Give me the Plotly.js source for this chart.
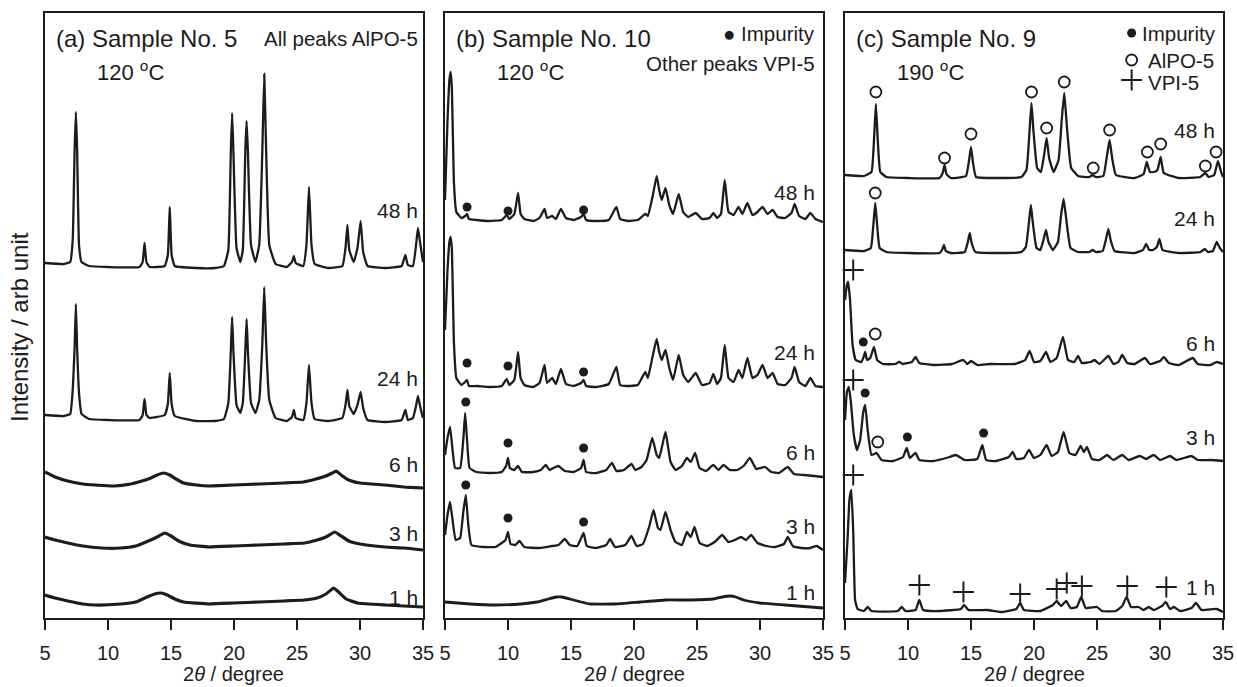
<!DOCTYPE html>
<html><head><meta charset="utf-8">
<script src="https://cdn.plot.ly/plotly-3.0.1.min.js"></script>
<style>html,body{margin:0;padding:0;background:#fff}#chart{width:1237px;height:687px}</style>
</head><body><div id="chart"></div>
<script>
// ---------- DATA (2theta in degree, stacked intensity in arb. units) ----------
const tickVals = [5,10,15,20,25,30,35];
const timeLabels = ['48 h','24 h','6 h','3 h','1 h'];

// Panel (a) Sample No. 5, 120 C
const a48 = [[5,355],[6.5,354],[7,356],[7.2,378],[7.35,468],[7.45,506],[7.55,468],[7.7,373],[7.9,356],[8.5,352],[10,351],[12.5,351],[12.75,356],[12.9,375],[13.05,356],[13.3,351],[14.5,352],[14.75,363],[14.9,411],[15.05,363],[15.3,352],[17,350],[18.5,350],[19.2,352],[19.55,368],[19.75,468],[19.85,505],[19.95,468],[20.2,370],[20.5,356],[20.7,368],[20.9,468],[21,497],[21.1,468],[21.35,373],[21.7,356],[22,373],[22.25,468],[22.4,544],[22.55,468],[22.8,373],[23.3,354],[24.2,351],[24.6,356],[24.75,362],[24.9,355],[25.5,352],[25.75,373],[25.95,431],[26.15,373],[26.4,354],[27.5,350],[28.6,352],[28.85,370],[29,393],[29.15,368],[29.5,356],[29.8,370],[30.05,397],[30.25,366],[30.6,352],[32,350],[33.3,352],[33.6,363],[33.8,353],[34.2,352],[34.45,373],[34.6,390],[34.8,373],[35,356]];
const a24 = [[5,203],[6.5,202],[7,204],[7.2,228],[7.35,270],[7.45,314],[7.55,270],[7.7,225],[7.9,204],[8.5,199],[10,198],[12.5,198],[12.75,203],[12.9,219],[13.05,203],[13.3,200],[14.5,203],[14.75,214],[14.9,245],[15.05,214],[15.3,202],[17,197],[18.5,197],[19.2,199],[19.55,215],[19.75,268],[19.85,301],[19.95,268],[20.2,213],[20.5,205],[20.7,215],[20.9,268],[21,299],[21.1,268],[21.35,215],[21.7,205],[22,218],[22.25,275],[22.4,331],[22.55,275],[22.8,218],[23.3,200],[24.2,197],[24.6,201],[24.75,208],[24.9,200],[25.5,198],[25.75,215],[25.95,253],[26.15,215],[26.4,199],[27.5,197],[28.6,200],[28.85,213],[29,228],[29.15,212],[29.5,204],[29.8,213],[30.05,226],[30.25,210],[30.6,198],[32,196],[33.3,198],[33.6,208],[33.8,198],[34.2,200],[34.45,212],[34.6,222],[34.8,210],[35,200]];
const a6 = [[5,146],[5.8,141],[6.8,137],[8,134],[9,133],[10.5,132],[11.8,134],[12.7,137],[13.4,140],[13.9,143],[14.4,145],[14.9,143],[15.4,139],[16,135],[17,133],[18,132],[20,133],[22,134],[24,135],[25.5,136],[26.5,139],[27.3,142],[27.8,145],[28.1,147],[28.5,143],[29.1,138],[30,135],[32,133],[33.5,131],[35,130]];
const a3 = [[5,81],[5.8,78],[6.8,75],[8,72],[9.5,70],[11,70],[12.2,72],[13.2,77],[13.9,81],[14.5,85],[15,82],[15.6,77],[16.5,73],[18,71],[20,72],[22,73],[24,74],[25.6,75],[26.6,78],[27.3,81],[28,86],[28.5,82],[29.1,77],[30,74],[32,71],[33.5,70],[35,68]];
const a1 = [[5,23],[5.8,20],[6.8,17],[8,14],[9,13],[11,14],[12.2,16],[13.1,21],[13.7,24],[14.2,25],[14.7,23],[15.3,19],[16,16],[18,14],[20,15],[22,16],[24,17],[25.6,18],[26.6,20],[27.3,24],[27.9,30],[28.3,26],[28.9,19],[29.8,15],[32,13],[33.5,12],[35,11]];

// Panel (b) Sample No. 10, 120 C
const b48 = [[5,418],[5.2,498],[5.35,538],[5.45,546],[5.55,528],[5.7,438],[5.9,406],[6.3,400],[6.6,402],[6.75,404],[6.9,399],[7.5,398],[8.5,397],[9.5,398],[9.9,403],[10.1,399],[10.5,404],[10.8,425],[11,404],[11.3,399],[12,397],[12.5,400],[12.9,409],[13.1,400],[13.5,402],[13.8,399],[14.2,409],[14.6,400],[15.2,398],[15.8,401],[16,404],[16.2,398],[17,397],[18,398],[18.6,411],[18.9,399],[19.5,397],[20.3,398],[20.9,404],[21.1,402],[21.5,423],[21.8,442],[22,428],[22.2,418],[22.5,430],[22.8,413],[23.1,404],[23.55,424],[23.9,406],[24.3,401],[24.9,405],[25.4,399],[26,400],[26.3,405],[26.6,400],[26.9,404],[27.2,438],[27.5,406],[27.9,403],[28.3,411],[28.6,404],[29,415],[29.4,403],[29.8,406],[30.2,411],[30.6,404],[31,408],[31.4,401],[32,400],[32.5,405],[32.75,414],[33.1,402],[33.6,399],[34,405],[34.4,399],[35,396]];
const b24 = [[5,288],[5.2,348],[5.35,376],[5.45,381],[5.55,368],[5.7,278],[5.9,240],[6.3,233],[6.6,236],[6.75,238],[6.9,232],[7.5,232],[8.5,231],[9.5,232],[9.9,239],[10.1,233],[10.5,238],[10.8,266],[11,240],[11.3,233],[12,231],[12.5,235],[12.9,253],[13.1,235],[13.5,240],[13.8,234],[14.2,249],[14.6,234],[15.2,232],[15.8,235],[16,238],[16.2,232],[17,231],[18,234],[18.6,251],[18.9,233],[19.5,232],[20.3,233],[20.9,246],[21.1,240],[21.5,263],[21.8,279],[22,266],[22.2,258],[22.5,268],[22.8,250],[23.1,238],[23.55,263],[23.9,243],[24.3,236],[24.9,245],[25.4,233],[26,235],[26.3,244],[26.6,234],[26.9,240],[27.2,273],[27.5,240],[27.9,236],[28.3,248],[28.6,240],[29,260],[29.4,240],[29.8,243],[30.2,253],[30.6,240],[31,245],[31.4,234],[32,233],[32.5,240],[32.75,251],[33.1,236],[33.6,232],[34,240],[34.4,232],[35,231]];
const b6 = [[5,163],[5.2,180],[5.4,191],[5.6,168],[5.8,150],[6.2,150],[6.45,178],[6.6,205],[6.75,178],[6.95,150],[7.5,146],[8.5,145],[9.5,146],[9.85,152],[10,160],[10.15,150],[10.5,148],[10.8,152],[11.1,146],[12,146],[12.6,148],[13,153],[13.3,148],[13.6,150],[14,152],[14.5,147],[15.2,146],[15.8,150],[16,158],[16.2,146],[17,145],[17.8,148],[18.25,155],[18.6,147],[19.2,148],[19.8,154],[20.1,148],[20.6,151],[21,158],[21.45,180],[21.8,163],[22,160],[22.5,186],[22.9,156],[23.3,148],[23.8,152],[24.2,160],[24.5,156],[24.85,165],[25.2,150],[25.7,147],[26.3,153],[26.7,148],[27.1,153],[27.6,148],[28.2,148],[28.7,152],[29.2,160],[29.7,149],[30.4,151],[30.9,146],[31.5,145],[32.2,151],[32.7,144],[33.5,143],[34.3,142],[35,141]];
const b3 = [[5,83],[5.2,103],[5.4,116],[5.6,98],[5.85,78],[6.2,80],[6.45,106],[6.65,123],[6.85,93],[7.1,73],[8,71],[9,71],[9.8,78],[10,86],[10.2,74],[10.6,73],[10.9,77],[11.3,71],[12.5,70],[13.5,72],[14,73],[14.5,79],[14.9,73],[15.5,72],[16,85],[16.25,72],[17,70],[17.8,73],[18.1,79],[18.5,71],[19.3,73],[19.8,82],[20.2,72],[20.7,74],[21.2,91],[21.55,108],[21.9,90],[22.1,88],[22.5,106],[22.9,88],[23.3,76],[23.8,73],[24.2,86],[24.5,81],[24.8,91],[25.2,75],[25.8,72],[26.4,76],[27,83],[27.5,76],[28,78],[28.5,81],[28.9,78],[29.3,83],[29.8,75],[30.5,72],[31.2,71],[31.9,74],[32.2,81],[32.6,72],[33.3,70],[34,70],[34.5,72],[35,68]];
const b1 = [[5,16],[6,15],[7,14],[9,13],[11,14],[12.3,16],[13.2,19],[13.8,21],[14.3,21],[14.9,19],[15.8,16],[16.5,14],[18.5,14],[20.5,16],[22.5,18],[24.5,18],[26.3,19],[27,21],[27.6,22],[28.1,21],[28.7,18],[30,15],[32,13],[35,10]];
// impurity markers (b)
const bImpurity = [[6.75,411],[10,407],[16,408],[6.75,255],[10,252],[16,246],[6.65,216],[10,175],[16,170],[6.65,133],[10,100],[16,96]];

// Panel (c) Sample No. 9, 190 C
const c48 = [[5,443],[6.5,442],[7.1,446],[7.3,478],[7.45,514],[7.6,478],[7.8,446],[8.3,441],[10,440],[12.5,440],[12.75,445],[12.9,453],[13.05,444],[13.4,440],[14.6,442],[14.85,458],[15,471],[15.15,456],[15.4,441],[17,440],[19,441],[19.4,448],[19.65,488],[19.8,515],[19.95,488],[20.25,450],[20.55,446],[20.8,463],[21,480],[21.2,460],[21.55,446],[21.95,458],[22.2,498],[22.4,525],[22.6,493],[22.95,450],[23.5,442],[24.4,441],[24.65,443],[24.9,441],[25.5,442],[25.8,463],[26,478],[26.2,460],[26.5,443],[28,440],[28.7,444],[28.95,456],[29.2,446],[29.5,446],[29.8,448],[30.05,461],[30.3,445],[31.5,440],[33.2,441],[33.6,445],[33.85,441],[34.3,443],[34.6,457],[34.85,446],[35,441]];
const c24 = [[5,368],[6.5,367],[7.05,370],[7.25,393],[7.4,415],[7.55,393],[7.75,370],[8.3,366],[10,365],[12.5,365],[12.7,368],[12.85,373],[13,367],[13.4,365],[14.5,366],[14.75,376],[14.9,385],[15.05,375],[15.35,366],[17,365],[19,366],[19.35,371],[19.6,396],[19.75,413],[19.9,396],[20.2,370],[20.5,368],[20.75,378],[20.95,388],[21.15,376],[21.5,368],[21.9,376],[22.15,403],[22.35,419],[22.55,400],[22.9,370],[23.5,366],[24.4,366],[24.65,368],[24.9,366],[25.45,367],[25.7,378],[25.9,389],[26.1,377],[26.4,367],[28,365],[28.65,368],[28.9,374],[29.15,368],[29.45,368],[29.75,371],[29.95,379],[30.2,368],[31.5,365],[33.2,366],[33.55,369],[33.8,366],[34.2,367],[34.5,376],[34.75,370],[35,366]];
const c6 = [[5,318],[5.15,333],[5.25,336],[5.4,318],[5.6,273],[5.85,258],[6.3,256],[6.5,262],[6.6,266],[6.75,258],[7,260],[7.3,271],[7.55,258],[8,254],[9,254],[9.3,256],[9.6,254],[10.3,256],[10.6,261],[10.9,255],[12,253],[13.5,254],[14.4,258],[14.7,254],[15,257],[15.5,253],[16.5,254],[18.5,254],[19.3,258],[19.65,267],[20,256],[20.5,257],[20.95,266],[21.3,256],[21.8,260],[22.3,281],[22.7,258],[23.2,256],[23.5,262],[23.8,255],[24.5,256],[24.8,258],[25.2,254],[25.9,262],[26.3,254],[26.7,256],[27,263],[27.4,255],[28,254],[28.8,260],[29.2,254],[30,257],[30.3,261],[30.7,255],[31.5,253],[32.6,260],[33,254],[34,253],[34.5,256],[35,254]];
const c3 = [[5,198],[5.15,226],[5.3,231],[5.45,218],[5.7,183],[5.95,168],[6.2,178],[6.45,206],[6.6,213],[6.8,188],[7.1,163],[7.5,165],[7.9,158],[8.8,157],[9.6,161],[9.9,170],[10.15,160],[10.6,165],[10.9,158],[12,157],[13.3,161],[13.8,163],[14.5,158],[15.5,159],[15.9,173],[16.2,158],[17,157],[18,161],[18.3,166],[18.6,159],[19.2,160],[19.6,168],[20,160],[20.5,163],[21,173],[21.4,162],[21.9,166],[22.35,186],[22.8,165],[23.3,163],[23.7,172],[23.95,166],[24.2,171],[24.6,159],[25.2,158],[25.8,163],[26.3,158],[27,163],[27.5,158],[28.4,162],[28.9,159],[29.5,163],[30,158],[30.8,162],[31.3,158],[32.5,162],[33,158],[34,158],[35,157]];
const c1 = [[5,35],[5.2,78],[5.35,118],[5.5,128],[5.65,88],[5.8,18],[6,9],[6.5,7],[6.8,11],[7.1,7],[9.2,7],[9.5,11],[9.8,7],[10.6,8],[10.9,18],[11.2,8],[12.5,7],[14.2,9],[14.45,13],[14.8,8],[16.3,8],[17.5,6],[18.6,9],[18.9,15],[19.2,8],[20.5,7],[21.5,13],[21.8,17],[22.15,12],[22.55,17],[22.9,10],[23.4,11],[23.75,21],[24.1,10],[25,11],[25.4,7],[26.5,7],[27,12],[27.35,21],[27.7,11],[28.3,11],[28.7,8],[29.1,11],[29.5,8],[30.15,12],[30.45,16],[30.8,9],[31.1,11],[31.6,7],[32.5,10],[32.85,15],[33.3,8],[34.5,9],[35,6]];
// phase markers (c)
const cAlpo = [[7.45,526],[12.9,460],[15,484],[19.8,526],[21,490],[22.4,536],[24.7,450],[26,488],[29,466],[30.05,474],[33.6,452],[34.45,466],[7.4,425],[7.4,284],[7.6,176]];
const cImpurity = [[6.45,276],[6.6,225],[9.95,181],[16,185]];
const cVpi = [[5.65,348],[5.65,238],[5.65,143],[10.9,33],[14.4,26],[18.9,24],[21.8,29],[22.6,35],[23.8,32],[27.4,32],[30.5,31]];

// ---------- BUILD ----------
const INK = '#1c1c1c';
const FONT = 'Liberation Sans, Arial, Helvetica, sans-serif';
function line(pts, n, w){
  return {x: pts.map(p=>p[0]), y: pts.map(p=>p[1]), xaxis: 'x'+(n>1?n:''), yaxis: 'y'+(n>1?n:''),
    type:'scatter', mode:'lines', line:{color:INK, width:w, shape:'spline', smoothing:0.35}, hoverinfo:'skip', showlegend:false};
}
function marks(pts, n, kind){
  const m = kind==='dot' ? {symbol:'circle', size:9, color:INK} :
            kind==='ring' ? {symbol:'circle-open', size:11, color:INK, line:{color:INK, width:1.8}} :
            {symbol:'cross-thin', size:15, color:INK, line:{color:INK, width:2}};
  return {x: pts.map(p=>p[0]), y: pts.map(p=>p[1]), xaxis: 'x'+(n>1?n:''), yaxis: 'y'+(n>1?n:''),
    type:'scatter', mode:'markers', marker:m, hoverinfo:'skip', showlegend:false, cliponaxis:false};
}
const traces = [
  line(a48,1,2.3), line(a24,1,2.3), line(a6,1,3.2), line(a3,1,3.2), line(a1,1,3.2),
  line(b48,2,2.3), line(b24,2,2.3), line(b6,2,2.3), line(b3,2,2.3), line(b1,2,2.8),
  line(c48,3,2.3), line(c24,3,2.3), line(c6,3,2.3), line(c3,3,2.3), line(c1,3,2.3),
  marks(bImpurity,2,'dot'), marks(cAlpo,3,'ring'), marks(cImpurity,3,'dot'), marks(cVpi,3,'plus'),
  // legend symbols of panel (c)
  marks([[27.75,585]],3,'dot'), marks([[27.75,558]],3,'ring'), marks([[27.75,538]],3,'plus')
];

function xax(dom, anchor){
  return {domain:dom, anchor:anchor, range:[5,35], tickvals:tickVals, ticktext:tickVals.map(String),
    ticks:'outside', ticklen:10, tickwidth:1.8, tickcolor:INK, ticklabelstandoff:6,
    showline:true, mirror:true, linecolor:INK, linewidth:1.8,
    showgrid:false, zeroline:false, tickfont:{family:FONT, size:20, color:INK}, fixedrange:true};
}
function yax(anchor){
  return {anchor:anchor, range:[0,605], showticklabels:false, ticks:'', showline:true, mirror:true,
    linecolor:INK, linewidth:1.8, showgrid:false, zeroline:false, fixedrange:true};
}
const labelY = {x:[408,240,154,85,21], x2:[426,266,166,92,26], x3:[488,400,275,181,31]};
const labelX = {x:34.76, x2:34.52, x3:34.52};
const ann = [];
function txt(text, xref, x, y, size, anchor){
  ann.push({text:text, xref:xref, yref:'y'+xref.slice(1), x:x, y:y, xanchor:anchor||'left', yanchor:'middle',
    showarrow:false, font:{family:FONT, size:size, color:INK}});
}
['x','x2','x3'].forEach(r=>{
  timeLabels.forEach((t,i)=>txt(t, r, labelX[r], labelY[r][i], 21, 'right'));
});
txt('(a) Sample No. 5','x',5.72,580,24); txt('All peaks AlPO-5','x',34.8,580,20.5,'right');
txt('120 <sup>o</sup>C','x',8.97,547,22);
txt('(b) Sample No. 10','x2',5.72,580,24); txt('120 <sup>o</sup>C','x2',8.97,547,22);
txt('● Impurity','x2',34.55,585,20.5,'right'); txt('Other peaks VPI-5','x2',34.55,555,20.5,'right');
txt('(c) Sample No. 9','x3',5.72,580,24); txt('190 <sup>o</sup>C','x3',8.97,547,22);
txt('Impurity','x3',28.4,585,20.5); txt('AlPO-5','x3',28.85,558,20.5); txt('VPI-5','x3',28.85,536,20.5);

const doms = [[0,0.32088],[0.33956,0.66044],[0.67912,1]];
doms.forEach(d=>ann.push({text:'2<i>θ</i> / degree', xref:'paper', yref:'paper', x:(d[0]+d[1])/2, y:-0.0926,
  xanchor:'center', yanchor:'middle', showarrow:false, font:{family:FONT, size:20, color:INK}}));
ann.push({text:'Intensity / arb unit', xref:'paper', yref:'paper', x:-0.0212, y:0.481, textangle:-90,
  xanchor:'center', yanchor:'middle', showarrow:false, font:{family:FONT, size:24, color:INK}});

const layout = {
  width:1237, height:687, margin:{l:45, r:14, t:13, b:69}, paper_bgcolor:'#fff', plot_bgcolor:'#fff',
  showlegend:false, font:{family:FONT, color:INK},
  xaxis:xax(doms[0],'y'), xaxis2:xax(doms[1],'y2'), xaxis3:xax(doms[2],'y3'),
  yaxis:yax('x'), yaxis2:yax('x2'), yaxis3:yax('x3'),
  annotations:ann
};
Plotly.newPlot('chart', traces, layout, {staticPlot:true, displayModeBar:false});
</script></body></html>
